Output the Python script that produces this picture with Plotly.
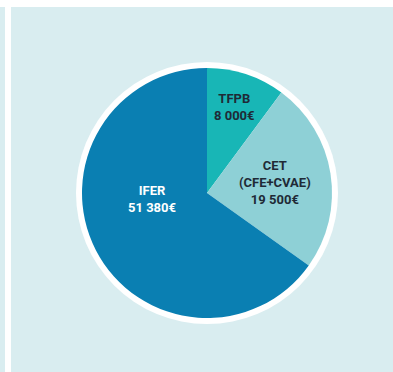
import plotly.graph_objects as go

labels = ["TFPB", "CET<br>(CFE+CVAE)", "IFER"]
values = [8000, 19500, 51380]
value_text = ["8 000€", "19 500€", "51 380€"]
colors = ["#18b6b6", "#8ed0d6", "#0a7fb2"]
text_colors = ["#1f2a36", "#1f2a36", "#ffffff"]

W, H = 393, 372
cx, cy, r = 207, 193, 125
border = 6

fig = go.Figure()
fig.add_trace(go.Pie(
    labels=labels,
    values=values,
    sort=False,
    direction="clockwise",
    rotation=0,
    marker=dict(colors=colors, line=dict(width=0)),
    textinfo="none",
    hoverinfo="label+value",
    showlegend=False,
    domain=dict(x=[(cx - r) / W, (cx + r) / W], y=[(H - cy - r) / H, (H - cy + r) / H]),
))

# background panels
shapes = [
    dict(type="rect", xref="paper", yref="paper", x0=0, x1=5 / W, y0=0, y1=(H - 7) / H,
         fillcolor="#d9edf0", line=dict(width=0), layer="below"),
    dict(type="rect", xref="paper", yref="paper", x0=11 / W, x1=1, y0=0, y1=(H - 7) / H,
         fillcolor="#d9edf0", line=dict(width=0), layer="below"),
    dict(type="circle", xref="paper", yref="paper",
         x0=(cx - r - border) / W, x1=(cx + r + border) / W,
         y0=(H - cy - r - border) / H, y1=(H - cy + r + border) / H,
         fillcolor="#ffffff", line=dict(width=0), layer="below"),
]

# label positions (pixels)
label_pos = [(234, 107), (275, 182), (152, 199)]
annotations = []
for lab, vt, tc, (px, py) in zip(labels, value_text, text_colors, label_pos):
    annotations.append(dict(
        x=px / W, y=(H - py) / H, xref="paper", yref="paper",
        text=f"<b>{lab}<br>{vt}</b>", showarrow=False,
        font=dict(family="Liberation Sans Narrow, Roboto, sans-serif", size=13, color=tc),
        align="center", xanchor="center", yanchor="middle",
    ))

fig.update_layout(
    width=W, height=H,
    margin=dict(l=0, r=0, t=0, b=0),
    paper_bgcolor="#ffffff",
    plot_bgcolor="#ffffff",
    shapes=shapes,
    annotations=annotations,
)

fig.write_html("out.html")
